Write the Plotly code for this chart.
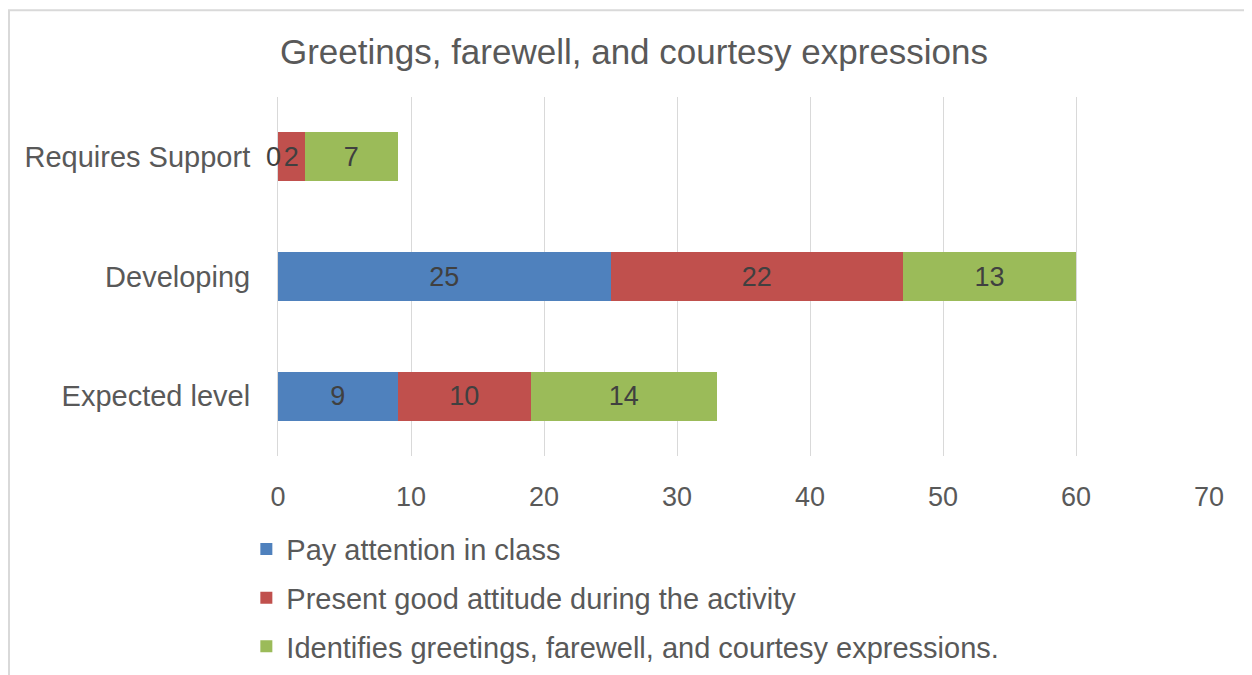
import plotly.graph_objects as go

categories = ["Expected level", "Developing", "Requires Support"]
series_names = [
    "Pay attention in class",
    "Present good attitude during the activity",
    "Identifies greetings, farewell, and courtesy expressions.",
]
pay_attention = [9, 25, 0]
good_attitude = [10, 22, 2]
identifies = [14, 13, 7]
x_ticks = [0, 10, 20, 30, 40, 50, 60, 70]
colors = ["#4f81bd", "#c0504d", "#9bbb59"]

FONT = "Liberation Sans, Arial, sans-serif"
fig = go.Figure()
for i, (name, vals, col) in enumerate(zip(series_names, [pay_attention, good_attitude, identifies], colors)):
    fig.add_trace(go.Bar(
        y=categories, x=vals, name=name, orientation="h",
        legendgroup=f"g{i}",
        marker=dict(color=col, line=dict(width=0)),
        text=[str(v) if v > 0 else "" for v in vals],
        textposition="inside", insidetextanchor="middle",
        textfont=dict(size=27, color="#404040", family=FONT),
        constraintext="none",
    ))

# zero-valued segment labels
for vals in [pay_attention, good_attitude, identifies]:
    for c, v in zip(categories, vals):
        if v == 0:
            fig.add_annotation(x=v, y=c, text=str(v), showarrow=False,
                               xanchor="right", xshift=5,
                               font=dict(size=27, color="#404040", family=FONT))

L, R, T, B = 270, 51, 89, 226
PW, PH = 1252 - L - R, 675 - T - B

fig.update_layout(
    width=1252, height=675,
    barmode="stack", bargap=0.59,
    plot_bgcolor="white", paper_bgcolor="white",
    margin=dict(l=L, r=R, t=T, b=B),
    font=dict(family=FONT, color="#595959"),
    title=dict(text="Greetings, farewell, and courtesy expressions",
               x=0.5, xanchor="center", y=0.935, yanchor="middle",
               font=dict(size=35, color="#595959", family=FONT)),
    xaxis=dict(range=[0, 70], tickvals=x_ticks, showgrid=True, gridcolor="#d9d9d9",
               gridwidth=1, zeroline=False, showline=False,
               ticks="outside", ticklen=17, tickcolor="rgba(0,0,0,0)",
               tickfont=dict(size=27, color="#595959")),
    yaxis=dict(showline=True, linecolor="#d9d9d9", linewidth=1, showgrid=False,
               ticks="outside", ticklen=21, tickcolor="rgba(0,0,0,0)",
               tickfont=dict(size=29, color="#595959")),
    legend=dict(orientation="v", x=-0.034, xanchor="left", y=-0.185, yanchor="top",
                font=dict(size=29, color="#595959"), traceorder="grouped",
                tracegroupgap=8, itemwidth=30, bgcolor="rgba(0,0,0,0)"),
    showlegend=True,
)
fig.add_shape(type="rect", xref="paper", yref="paper",
              x0=(1 - L) / PW, x1=1.2, y0=-1, y1=(675 - B - 2) / PH,
              line=dict(color="#d9d9d9", width=2), fillcolor="rgba(0,0,0,0)", layer="below")

fig.write_html("out.html")
